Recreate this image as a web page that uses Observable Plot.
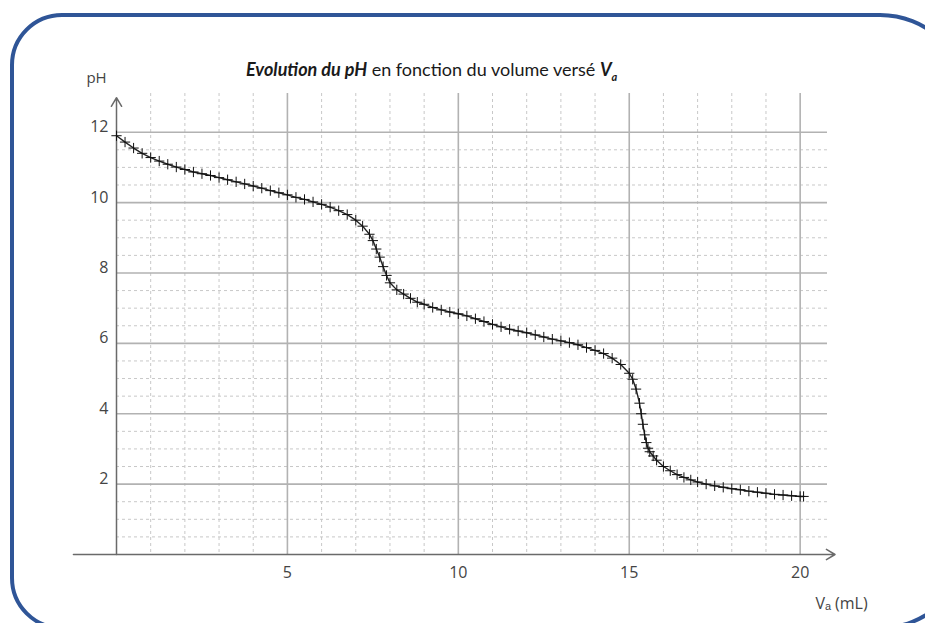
<!DOCTYPE html>
<html>
<head>
<meta charset="utf-8">
<script src="https://cdn.jsdelivr.net/npm/d3@7"></script>
<script src="https://cdn.jsdelivr.net/npm/@observablehq/plot@0.6"></script>
<style>
  html, body { margin: 0; padding: 0; background: #fff; overflow: hidden; }
  #wrap { position: relative; width: 925px; height: 623px; overflow: hidden; background: #fff; }
  #frame { position: absolute; left: 10px; top: 13px; width: 960px; height: 617px; box-sizing: border-box;
           border: 4px solid #2f5597; border-radius: 52px 90px 90px 52px; }
  #title { position: absolute; left: 246px; top: 58px; font-family: Lato, "Open Sans", sans-serif;
           font-size: 18px; color: #1a1a1a; white-space: nowrap; line-height: 22px; }
  #title sub { font-size: 11px; }
  #chart { position: absolute; left: 0; top: 0; }
</style>
</head>
<body>
<div id="wrap">
  <div id="frame"></div>
  <div id="chart"></div>
  <div id="title"><b><i>Evolution du pH</i></b> en fonction du volume versé <b><i>V<sub>a</sub></i></b></div>
</div>
<script>
// Volume versé (mL)
const volumes = [0, 0.25, 0.5, 0.75, 1.0, 1.25, 1.5, 1.75, 2.0, 2.25, 2.5, 2.75, 3.0, 3.25, 3.5, 3.75,
  4.0, 4.25, 4.5, 4.75, 5.0, 5.25, 5.5, 5.75, 6.0, 6.25, 6.5, 6.75, 7.0, 7.2, 7.4, 7.5, 7.6, 7.7, 7.8, 7.9,
  8.0, 8.2, 8.4, 8.6, 8.8, 9.0, 9.25, 9.5, 9.75, 10.0, 10.25, 10.5, 10.75, 11.0, 11.25, 11.5, 11.75,
  12.0, 12.25, 12.5, 12.75, 13.0, 13.25, 13.5, 13.75, 14.0, 14.25, 14.5, 14.75, 15.0, 15.1, 15.2, 15.3,
  15.35, 15.4, 15.45, 15.5, 15.55, 15.6, 15.7, 15.8, 16.0, 16.2, 16.4, 16.6, 16.8, 17.0, 17.25, 17.5,
  17.75, 18.0, 18.25, 18.5, 18.75, 19.0, 19.25, 19.5, 19.75, 20.0, 20.1];
// pH mesuré
const phValues = [11.9, 11.72, 11.55, 11.40, 11.28, 11.18, 11.09, 11.01, 10.94, 10.87, 10.82, 10.77, 10.71,
  10.65, 10.59, 10.53, 10.47, 10.41, 10.34, 10.28, 10.22, 10.15, 10.09, 10.02, 9.95, 9.87, 9.77, 9.66,
  9.50, 9.33, 9.10, 8.92, 8.68, 8.45, 8.18, 7.93, 7.72, 7.52, 7.40, 7.28, 7.17, 7.11, 7.02, 6.95, 6.89,
  6.84, 6.78, 6.70, 6.62, 6.54, 6.47, 6.40, 6.35, 6.30, 6.24, 6.18, 6.12, 6.07, 6.02, 5.96, 5.88, 5.80,
  5.71, 5.58, 5.40, 5.15, 4.98, 4.70, 4.30, 4.00, 3.70, 3.40, 3.18, 3.02, 2.92, 2.80, 2.68, 2.50, 2.38,
  2.27, 2.19, 2.12, 2.06, 2.00, 1.95, 1.91, 1.87, 1.84, 1.80, 1.77, 1.74, 1.71, 1.69, 1.67, 1.65, 1.65];

const xTicks = [5, 10, 15, 20];
const yTicks = [2, 4, 6, 8, 10, 12];
const xMinor = [1, 2, 3, 4, 6, 7, 8, 9, 11, 12, 13, 14, 16, 17, 18, 19];
const yMinor = [0.5, 1, 1.5, 2.5, 3, 3.5, 4.5, 5, 5.5, 6.5, 7, 7.5, 8.5, 9, 9.5, 10.5, 11, 11.5];
const axisArrows = [
  {x1: 0, y1: 0, x2: 0, y2: 12.98},
  {x1: -1.26, y1: 0, x2: 21.02, y2: 0}
];
const yLabel = ["pH"];
const xLabel = ["Vₐ (mL)"];

const data = volumes.map((v, i) => ({V: v, pH: phValues[i]}));

const chart = Plot.plot({
  width: 925,
  height: 623,
  marginLeft: 116,
  marginRight: 98,
  marginTop: 93,
  marginBottom: 69,
  x: {domain: [0, 20.8]},
  y: {domain: [0, 13.1]},
  style: {fontFamily: "'Open Sans', sans-serif", fontSize: "16px", background: "transparent", color: "#444"},
  marks: [
    Plot.ruleY(yMinor, {stroke: "#c8c8c8", strokeDasharray: "3,3", strokeWidth: 1}),
    Plot.ruleX(xMinor, {stroke: "#c8c8c8", strokeDasharray: "3,3", strokeWidth: 1}),
    Plot.ruleY(yTicks, {stroke: "#b2b2b2", strokeWidth: 1.6}),
    Plot.ruleX(xTicks, {stroke: "#b2b2b2", strokeWidth: 1.6}),
    Plot.axisY({ticks: yTicks, tickSize: 0, tickPadding: 8, dy: -5, label: null, fill: "#444", fontSize: 16}),
    Plot.axisX({ticks: xTicks, tickSize: 0, tickPadding: 12, label: null, fill: "#444", fontSize: 16}),
    Plot.arrow(axisArrows, {x1: "x1", y1: "y1", x2: "x2", y2: "y2", stroke: "#6a6a6a", strokeWidth: 1.5,
      headLength: 10, headAngle: 62}),
    Plot.line(data, {x: "V", y: "pH", stroke: "#222", strokeWidth: 1.4}),
    Plot.dot(data, {x: "V", y: "pH", symbol: "plus", r: 3.4, stroke: "#111", strokeWidth: 1}),
    Plot.text(yLabel, {frameAnchor: "top-left", textAnchor: "middle", lineAnchor: "middle",
      dx: -20, dy: -15, fill: "#444", fontSize: 15}),
    Plot.text(xLabel, {frameAnchor: "bottom-right", textAnchor: "middle", lineAnchor: "middle",
      dx: 14, dy: 49, fill: "#444", fontSize: 16})
  ]
});
document.getElementById("chart").appendChild(chart);
</script>
</body>
</html>
